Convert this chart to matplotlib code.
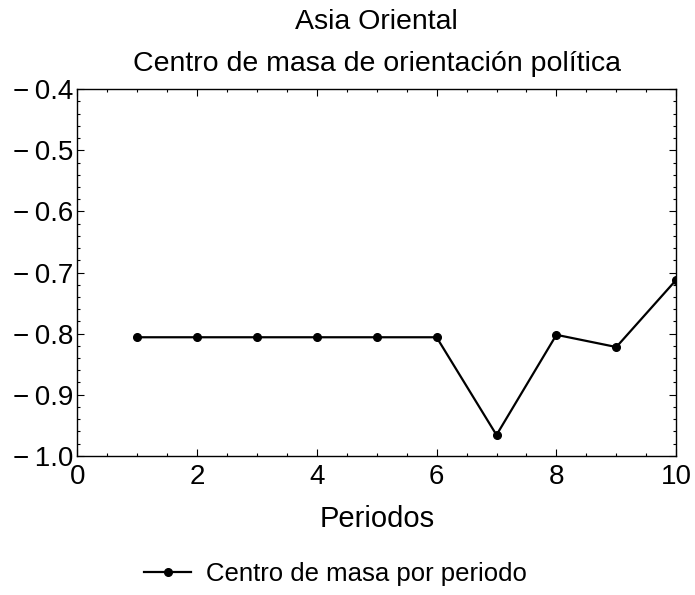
import matplotlib
matplotlib.use('Agg')
import matplotlib.pyplot as plt
from matplotlib.ticker import MultipleLocator, FuncFormatter

plt.rcParams['font.family'] = ['Liberation Sans', 'DejaVu Sans']

# data
periodos = [1, 2, 3, 4, 5, 6, 7, 8, 9, 10]
centro_masa = [-0.806, -0.806, -0.806, -0.806, -0.806, -0.806, -0.966, -0.802, -0.822, -0.712]

titulo = 'Asia Oriental\nCentro de masa de orientación política'
etiqueta_x = 'Periodos'
etiqueta_serie = 'Centro de masa por periodo'

fig = plt.figure(figsize=(6.95, 5.95), dpi=100)
ax = fig.add_axes([0.111, 0.234, 0.862, 0.616])

ax.plot(periodos, centro_masa, color='black', lw=1.6, marker='o', ms=5.5,
        label=etiqueta_serie)

ax.set_xlim(0, 10)
ax.set_ylim(-1.0, -0.4)
ax.xaxis.set_major_locator(MultipleLocator(2))
ax.xaxis.set_minor_locator(MultipleLocator(0.5))
ax.yaxis.set_major_locator(MultipleLocator(0.1))
ax.yaxis.set_minor_locator(MultipleLocator(0.02))
ax.yaxis.set_major_formatter(FuncFormatter(
    lambda v, p: ('\u2212\u2009' if v < -1e-9 else '') + '%.1f' % abs(v)))

ax.tick_params(which='both', direction='in', top=True, right=True,
               labelsize=20, color='black', width=0.8)
ax.tick_params(which='major', length=5, pad=3)
ax.tick_params(which='minor', length=2.5)
ax.tick_params(axis='x', which='major', pad=6)
for s in ax.spines.values():
    s.set_linewidth(1.0)

ax.set_title(titulo, fontsize=20.5, linespacing=1.8, pad=13)
ax.set_xlabel(etiqueta_x, fontsize=21, labelpad=11)

fig.legend(loc='center', bbox_to_anchor=(0.483, 0.036), frameon=False,
           fontsize=18.5, handlelength=1.8, handletextpad=0.6)

fig.savefig('out.png', dpi=100)
